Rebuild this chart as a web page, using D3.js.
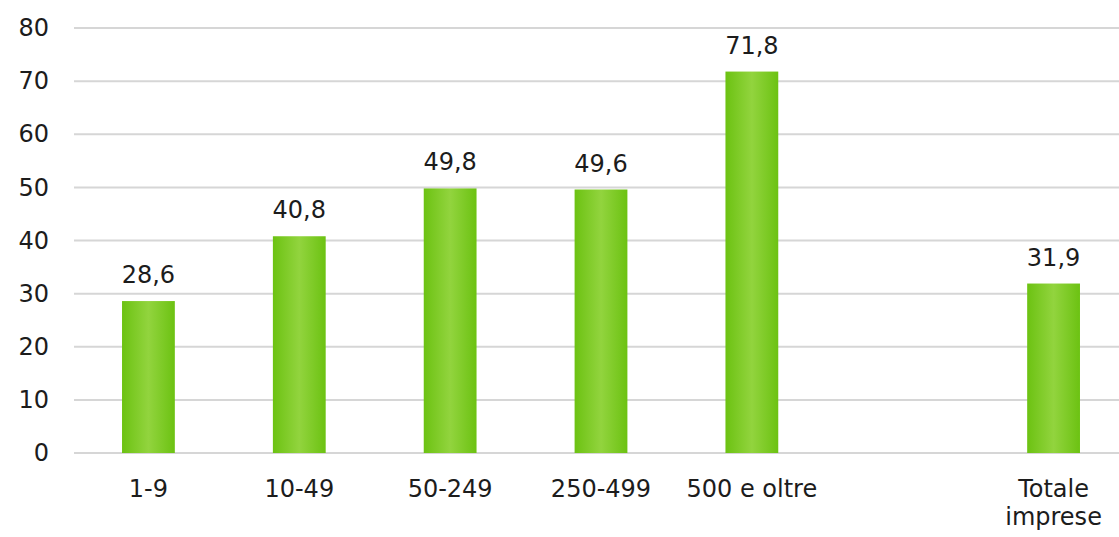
<!DOCTYPE html>
<html>
  <head>
    <meta charset="utf-8">
    <title>index.html</title>
    <script src="https://d3js.org/d3.v7.min.js"></script>
    <style>
      body { margin: 0; background: #fff; }
      text { font-family: "DejaVu Sans", sans-serif; fill: #1c1c1c; }
    </style>
  </head>
  <body>
  <svg width="1119" height="537"></svg>
  <script>
    // categories (the empty string keeps a blank slot before the total)
    var categories = ["1-9", "10-49", "50-249", "250-499", "500 e oltre", "", "Totale imprese"];
    var values = [28.6, 40.8, 49.8, 49.6, 71.8, null, 31.9];
    var yTicks = [0, 10, 20, 30, 40, 50, 60, 70, 80];

    var data = categories.map(function(c, i) { return {cat: c, key: "k" + i, val: values[i]}; });

    var svg = d3.select("svg");
    var gridLeft = 74, gridRight = 1119;
    var fs = 24;

    var x = d3.scaleBand()
      .domain(data.map(function(d) { return d.key; }))
      .range([73, 1129])
      .paddingInner(0.65)
      .paddingOuter(0.325);

    var y = d3.scaleLinear().domain([0, 80]).range([453, 28]);

    // gradient for the bars: darker edges, lighter middle
    var grad = svg.append("defs").append("linearGradient")
      .attr("id", "barGrad").attr("x1", "0%").attr("x2", "100%").attr("y1", "0%").attr("y2", "0%");
    grad.append("stop").attr("offset", "0%").attr("stop-color", "#6cc212");
    grad.append("stop").attr("offset", "50%").attr("stop-color", "#92d43e");
    grad.append("stop").attr("offset", "100%").attr("stop-color", "#6cc212");

    // gridlines
    svg.append("g").selectAll("line")
      .data(yTicks)
      .enter().append("line")
      .attr("x1", gridLeft).attr("x2", gridRight)
      .attr("y1", function(d) { return y(d); })
      .attr("y2", function(d) { return y(d); })
      .attr("stroke", "#d6d6d6")
      .attr("stroke-width", 2);

    // y axis labels
    var yAxis = d3.axisLeft(y).tickValues(yTicks).tickSize(0).tickPadding(0);
    svg.append("g")
      .attr("transform", "translate(49,0)")
      .call(yAxis)
      .call(function(g) { g.select(".domain").remove(); })
      .selectAll("text")
      .attr("font-size", fs)
      .style("font-family", "'DejaVu Sans', sans-serif")
      .attr("fill", "#1c1c1c");

    var bars = data.filter(function(d) { return d.val !== null; });

    svg.append("g").selectAll("rect")
      .data(bars)
      .enter().append("rect")
      .attr("x", function(d) { return x(d.key); })
      .attr("width", x.bandwidth())
      .attr("y", function(d) { return y(d.val); })
      .attr("height", function(d) { return y(0) - y(d.val); })
      .attr("fill", "url(#barGrad)");

    // value labels
    svg.append("g").selectAll("text")
      .data(bars)
      .enter().append("text")
      .attr("x", function(d) { return x(d.key) + x.bandwidth() / 2; })
      .attr("y", function(d) { return y(d.val) - 18; })
      .attr("text-anchor", "middle")
      .attr("font-size", fs)
      .text(function(d) { return d3.format(".1f")(d.val).replace(".", ","); });

    // category labels (split on the last word for the total)
    var catLabels = svg.append("g").selectAll("text")
      .data(bars)
      .enter().append("text")
      .attr("text-anchor", "middle")
      .attr("font-size", fs)
      .attr("x", function(d) { return x(d.key) + x.bandwidth() / 2; })
      .attr("y", 497);

    catLabels.each(function(d) {
      var t = d3.select(this);
      var lines = d.cat === "Totale imprese" ? ["Totale", "imprese"] : [d.cat];
      lines.forEach(function(l, i) {
        t.append("tspan")
          .attr("x", x(d.key) + x.bandwidth() / 2)
          .attr("dy", i === 0 ? 0 : 28)
          .text(l);
      });
    });
  </script>
  </body>
</html>
